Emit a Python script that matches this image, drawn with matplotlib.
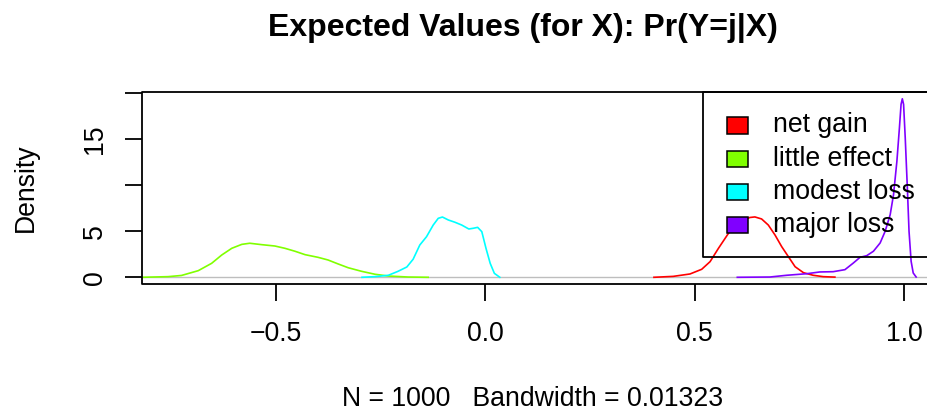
import matplotlib
matplotlib.use("Agg")
import matplotlib.pyplot as plt
from matplotlib.patches import Rectangle
from matplotlib.lines import Line2D

plt.rcParams['font.family'] = ['Liberation Sans', 'DejaVu Sans']

# ---- data ----
categories = ["net gain", "little effect", "modest loss", "major loss"]
colors = ["#FF0000", "#80FF00", "#00FFFF", "#8000FF"]

net_gain_x = [0.403, 0.449, 0.489, 0.517, 0.537, 0.557, 0.573, 0.589, 0.608, 0.632,
              0.644, 0.660, 0.676, 0.692, 0.708, 0.724, 0.740, 0.760, 0.783, 0.807, 0.835]
net_gain_y = [0.0, 0.10, 0.36, 0.87, 1.70, 3.15, 4.24, 5.33, 6.10, 6.50,
              6.56, 6.34, 5.68, 4.60, 3.33, 2.24, 1.15, 0.50, 0.22, 0.07, 0.02]

little_effect_x = [-0.820, -0.757, -0.725, -0.685, -0.653, -0.629, -0.605, -0.581, -0.562, -0.534,
                   -0.502, -0.478, -0.454, -0.430, -0.399, -0.375, -0.351, -0.327, -0.295, -0.263,
                   -0.232, -0.184, -0.136]
little_effect_y = [0.0, 0.07, 0.20, 0.72, 1.52, 2.42, 3.15, 3.58, 3.70, 3.55,
                   3.40, 3.15, 2.83, 2.46, 2.17, 1.88, 1.45, 1.04, 0.65, 0.33,
                   0.14, 0.03, 0.0]

modest_loss_x = [-0.294, -0.263, -0.231, -0.208, -0.187, -0.172, -0.156, -0.140, -0.124, -0.112,
                 -0.102, -0.088, -0.072, -0.056, -0.039, -0.028, -0.018, -0.008, 0.002, 0.012,
                 0.022, 0.035]
modest_loss_y = [0.0, 0.07, 0.22, 0.65, 1.12, 1.96, 3.51, 4.41, 5.68, 6.41,
                 6.55, 6.23, 5.98, 5.68, 5.25, 5.33, 5.43, 4.96, 3.15, 1.52,
                 0.43, 0.0]

major_loss_x = [0.602, 0.680, 0.720, 0.768, 0.799, 0.831, 0.859, 0.879, 0.895, 0.911,
                0.927, 0.943, 0.955, 0.967, 0.975, 0.983, 0.989, 0.993, 0.996, 0.999,
                1.003, 1.008, 1.012, 1.017, 1.022, 1.029]
major_loss_y = [0.0, 0.03, 0.22, 0.39, 0.58, 0.61, 0.83, 1.55, 2.17, 2.35,
                2.83, 3.73, 5.00, 6.80, 8.98, 12.6, 16.2, 18.8, 19.4, 18.8,
                15.1, 9.71, 5.00, 1.74, 0.47, 0.03]

series_x = [net_gain_x, little_effect_x, modest_loss_x, major_loss_x]
series_y = [net_gain_y, little_effect_y, modest_loss_y, major_loss_y]

x_ticks = [-0.5, 0.0, 0.5, 1.0]
x_tick_labels = ["\u22120.5", "0.0", "0.5", "1.0"]
y_ticks = [0, 5, 10, 15, 20]
y_tick_labels = ["0", "5", "", "15", ""]

title = "Expected Values (for X): Pr(Y=j|X)"
xlabel = "N = 1000   Bandwidth = 0.01323"
ylabel = "Density"

# ---- figure ----
W, H = 928, 415
fig = plt.figure(figsize=(W / 100, H / 100), dpi=100)

def fx(px):
    return px / W

def fy(py):
    return 1 - py / H

# plot region is cut off at the right edge of the picture, as in the reference
left_px, right_px, top_px, bot_px = 141.7, 928.0, 91.7, 284.3
ax = fig.add_axes([fx(left_px), fy(bot_px), fx(right_px) - fx(left_px), fy(top_px) - fy(bot_px)])
ax.set_xlim(-0.820, 1.0573)
ax.set_ylim(-0.761, 20.17)

ax.axhline(0, color="#BEBEBE", lw=1.0, zorder=1)
for xs, ys, c in zip(series_x, series_y, colors):
    ax.plot(xs, ys, color=c, lw=1.2, zorder=2)

# frame as open lines running past the picture's right edge
for s in ax.spines.values():
    s.set_visible(False)
frame_end = 1000.0
frame_kw = dict(transform=fig.transFigure, color="black", lw=1.3, solid_capstyle="butt", zorder=4)
fig.lines.append(Line2D([fx(frame_end), fx(left_px), fx(left_px), fx(frame_end)],
                        [fy(top_px), fy(top_px), fy(bot_px), fy(bot_px)], **frame_kw))

ax.set_xticks(x_ticks)
ax.set_xticklabels(x_tick_labels)
ax.set_yticks(y_ticks)
ax.set_yticklabels(y_tick_labels, rotation=90, va="center")
ax.tick_params(axis="both", direction="out", length=12.2, width=1.3, labelsize=19.2)
ax.tick_params(axis="x", pad=14)
ax.tick_params(axis="y", pad=12)

fig.text(fx(523.3), fy(28), title, ha="center", va="center", fontsize=23, fontweight="bold")
fig.text(fx(532.5), fy(399), xlabel, ha="center", va="center", fontsize=19.2)
fig.text(fx(26), fy(188), ylabel, ha="center", va="center", rotation=90, fontsize=19.2)

# ---- legend (transparent background, frame also runs off the right edge) ----
fig.lines.append(Line2D([fx(frame_end), fx(703), fx(703), fx(frame_end)],
                        [fy(91.7), fy(91.7), fy(257), fy(257)], **frame_kw))
row_y = [125.5, 159.2, 192.2, 225.2]
for cat, c, ry in zip(categories, colors, row_y):
    fig.patches.append(Rectangle((fx(727.5), fy(ry + 8)), fx(748.3) - fx(727.5), fy(ry - 8) - fy(ry + 8),
                                 transform=fig.transFigure, facecolor=c, edgecolor="black", lw=1.1,
                                 zorder=5))
    fig.text(fx(773.3), fy(ry), cat, ha="left", va="center", fontsize=19.2, zorder=6)

fig.savefig("out.png", dpi=100)
